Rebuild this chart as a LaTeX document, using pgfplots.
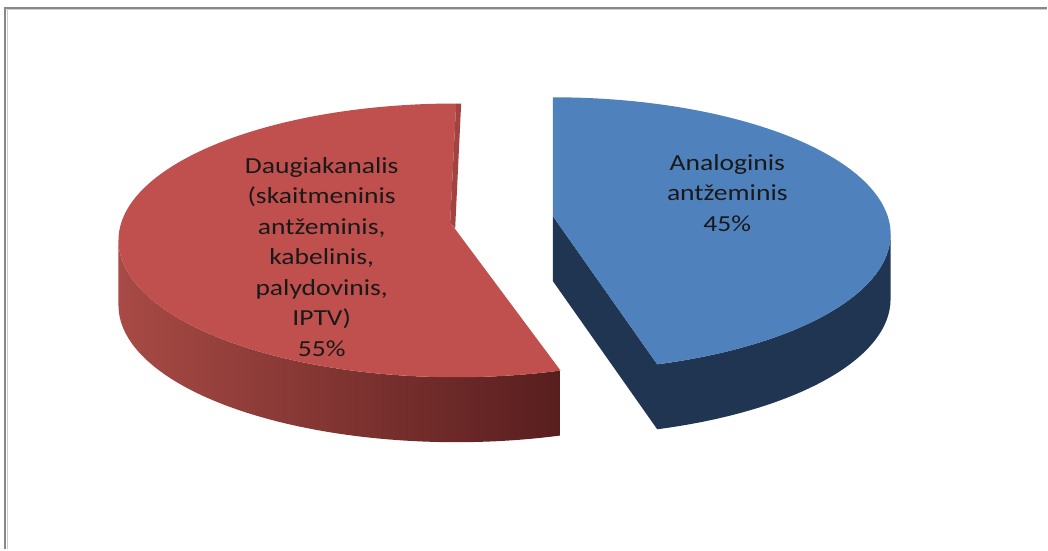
\documentclass[border=0pt]{standalone}
\usepackage{pgfplots}
\usepackage{pgfplotstable}
\pgfplotsset{compat=1.18}
\usepackage{fontspec}
\setmainfont{Carlito}

\definecolor{redtop}{HTML}{C0504D}
\definecolor{redwallL}{HTML}{A84A45}
\definecolor{redwallR}{HTML}{581E1E}
\definecolor{redinner}{HTML}{A3433F}
\definecolor{bluetop}{HTML}{4F81BD}
\definecolor{bluewall}{HTML}{1F3552}
\definecolor{framegray}{HTML}{888888}

% share of each slice (%)
\pgfplotstableread{
slice share
Analoginis 45
Daugiakanalis 55
}\piedata

\newcommand\pielabel[1]{\scalebox{1.2}[1]{\fontsize{23}{30.5}\selectfont
  \begin{tabular}{@{}c@{}}#1\end{tabular}}}

\begin{document}
\begin{tikzpicture}
\pgfplotstablegetelem{0}{share}\of\piedata \let\blueval\pgfplotsretval
\pgfplotstablegetelem{1}{share}\of\piedata \let\redval\pgfplotsretval
% pie geometry (axis units = pt)
\pgfmathsetmacro\cx{505}\pgfmathsetmacro\cy{312.5}
\pgfmathsetmacro\rx{338}\pgfmathsetmacro\ry{137}
\pgfmathsetmacro\dep{65}\pgfmathsetmacro\lift{18}\pgfmathsetmacro\expl{0.145}
% angles
\pgfmathsetmacro\bs{90-3.6*\blueval}\pgfmathsetmacro\be{90}
\pgfmathsetmacro\rs{90}\pgfmathsetmacro\re{90+3.6*\redval}
\pgfmathsetmacro\bm{(\bs+\be)/2}\pgfmathsetmacro\rm{(\rs+\re)/2}
% exploded centres
\pgfmathsetmacro\bcx{\cx+\expl*\rx*cos(\bm)}\pgfmathsetmacro\bcy{\cy+\expl*\ry*sin(\bm)}
\pgfmathsetmacro\rcx{\cx+\expl*\rx*cos(\rm)}\pgfmathsetmacro\rcy{\cy+\expl*\ry*sin(\rm)}
% rim points
\pgfmathsetmacro\bsx{\bcx+\rx*cos(\bs)}\pgfmathsetmacro\bsy{\bcy+\ry*sin(\bs)}
\pgfmathsetmacro\rsx{\rcx+\rx*cos(\rs)}\pgfmathsetmacro\rsy{\rcy+\ry*sin(\rs)}
\pgfmathsetmacro\rlx{\rcx-\rx}
\begin{axis}[
  x=1pt, y=1pt,
  xmin=0, xmax=1048, ymin=0, ymax=550,
  hide axis,
  clip=false,
]
\fill[white] (0,0) rectangle (1048,550);
\draw[framegray, line width=2pt] (5.5,0) -- (5.5,542) -- (1048,542);
\draw[gray!40, line width=0.8pt] (7,0) -- (7,540.5) -- (1048,540.5);
% blue walls
\fill[bluewall] (\bcx,\bcy+\lift) -- (\bsx,\bsy) -- ++(0,-\dep) -- (\bcx,\bcy+\lift-\dep) -- cycle;
\fill[bluewall] (\bsx,\bsy) arc[start angle=\bs, end angle=0, x radius=\rx, y radius=\ry]
  -- ++(0,-\dep) arc[start angle=0, end angle=\bs, x radius=\rx, y radius=\ry] -- cycle;
% red wall
\shade[left color=redwallL, right color=redwallR] (\rlx,\rcy) arc[start angle=180, end angle=\re, x radius=\rx, y radius=\ry]
  -- ++(0,-\dep) arc[start angle=\re, end angle=180, x radius=\rx, y radius=\ry] -- cycle;
% top faces
\fill[bluetop] (\bcx,\bcy+\lift) -- (\bsx,\bsy) arc[start angle=\bs, end angle=\be, x radius=\rx, y radius=\ry] -- cycle;
\fill[redtop] (\rcx-6,\rcy+\lift) -- (\rsx,\rsy) arc[start angle=\rs, end angle=\re, x radius=\rx, y radius=\ry] -- cycle;
\fill[redinner] (\rcx-6,\rcy+\lift) -- (\rsx,\rsy) -- (\rsx+5,\rsy) -- (\rcx-1,\rcy+\lift-6) -- cycle;
% labels
\node[text=black!90, inner sep=0pt] at (322,291)
  {\pielabel{Daugiakanalis\\(skaitmeninis\\antžeminis,\\kabelinis,\\palydovinis,\\IPTV)\\\redval\%}};
\node[text=black!90, inner sep=0pt] at (728,355)
  {\pielabel{Analoginis\\antžeminis\\\blueval\%}};
\end{axis}
\end{tikzpicture}
\end{document}
